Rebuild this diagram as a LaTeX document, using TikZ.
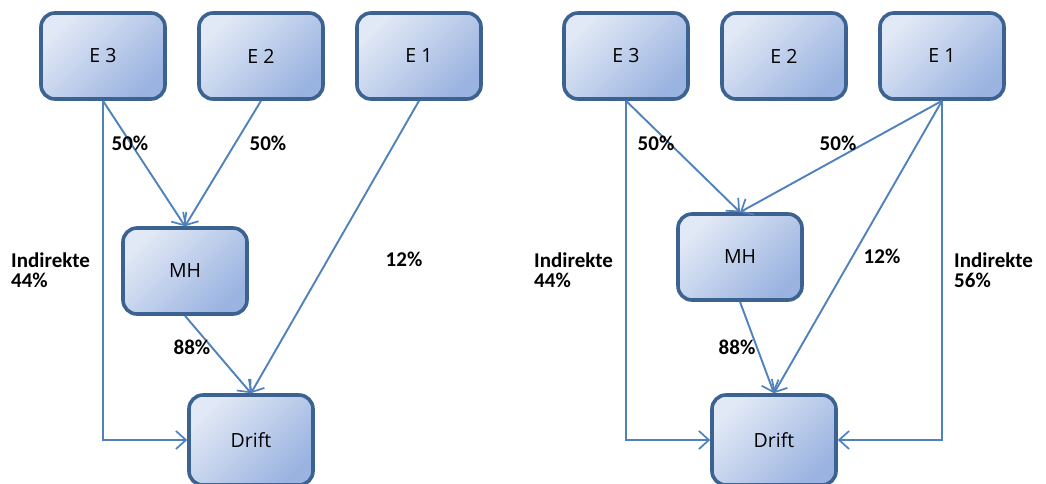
\documentclass[tikz,border=0pt]{standalone}
\usepackage{fontspec}
\setmainfont{Carlito}
\newfontfamily\boxfont{Open Sans}
\usetikzlibrary{arrows.meta}
\definecolor{boxedge}{HTML}{3C6292}
\definecolor{boxlight}{HTML}{E2E9F6}
\definecolor{boxdark}{HTML}{9AB3E0}
\definecolor{flow}{HTML}{4F81BD}
\tikzset{
  unit/.style={draw=boxedge, line width=3.6pt, rounded corners=14pt,
    minimum width=124pt, minimum height=86pt, inner sep=0pt,
    shading=axis, top color=boxlight, bottom color=boxdark, shading angle=45,
    font=\boxfont\fontsize{19.5}{20}\selectfont, text=black},
  flowline/.style={draw=flow, line width=1.9pt,
    -{Straight Barb[length=10pt,width=18pt,line width=1.7pt]}},
  share/.style={font=\fontsize{21}{20}\selectfont\bfseries, text=black,
    align=left, inner sep=0pt}
}
\begin{document}
\begin{tikzpicture}[x=1pt,y=-1pt]
\useasboundingbox (0,0) rectangle (1046,483);

% left scheme
\node[unit] (l3) at (103,56) {E 3};
\node[unit] (l2) at (261,56) {E 2};
\node[unit] (l1) at (419,56) {E 1};
\node[unit] (lmh) at (185,271) {MH};
\node[unit, minimum height=90pt] (ldrift) at (251,440) {Drift};

\draw[flowline] (l3.south) |- (ldrift.west);
\draw[flowline] (l3.south) -- (lmh.north);
\draw[flowline] (l2.south) -- (lmh.north);
\draw[flowline] (l1.south) -- (ldrift.north);
\draw[flowline] (lmh.south) -- (ldrift.north);

\node[share] (la) at (130,143) {50\%};
\node[share] (lb) at (268,143) {50\%};
\node[share, anchor=west] (lc) at (11,270) {Indirekte\\44\%};
\node[share] (ld) at (404,259) {12\%};
\node[share] (le) at (192,347) {88\%};

% right scheme
\node[unit] (r3) at (626,56) {E 3};
\node[unit] (r2) at (784,56) {E 2};
\node[unit] (r1) at (942,56) {E 1};
\node[unit] (rmh) at (740,257) {MH};
\node[unit, minimum height=90pt] (rdrift) at (774,440) {Drift};

\draw[flowline] (r3.south) |- (rdrift.west);
\draw[flowline] (r3.south) -- (rmh.north);
\draw[flowline] (r1.south) -- (rmh.north);
\draw[flowline] (r1.south) -- (rdrift.north);
\draw[flowline] (rmh.south) -- (rdrift.north);
\draw[flowline] (r1.south) |- (rdrift.east);

\node[share] (ra) at (656,143) {50\%};
\node[share] (rb) at (838,143) {50\%};
\node[share, anchor=west] (rc) at (534,270) {Indirekte\\44\%};
\node[share] (rd) at (882,256) {12\%};
\node[share, anchor=west] (rf) at (954,270) {Indirekte\\56\%};
\node[share] (re) at (737,347) {88\%};
\end{tikzpicture}
\end{document}
